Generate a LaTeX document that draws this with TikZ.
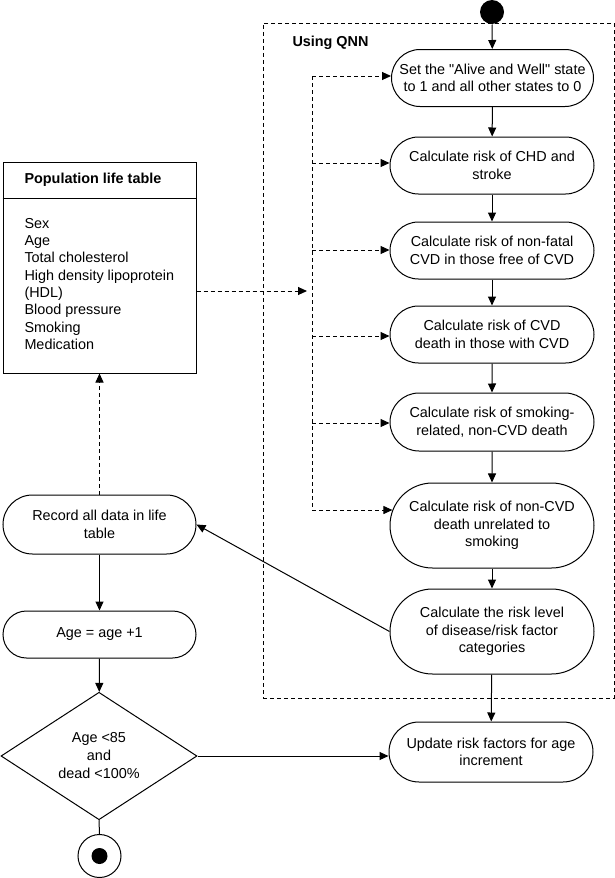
\documentclass[tikz,border=0pt]{standalone}
\usepackage{fontspec}
\setmainfont{Liberation Sans}[Ligatures=TeXOff]
\usetikzlibrary{arrows.meta,shapes.misc,shapes.geometric}

\begin{document}
\begin{tikzpicture}[x=1pt,y=-1pt,
  font=\fontsize{14.4}{17.5}\selectfont,
  line width=1pt,
  tip/.style={-{Triangle[length=9pt,width=8pt]}},
  dsh/.style={dash pattern=on 4pt off 3pt},
  proc/.style={draw, rounded rectangle, fill=white, align=center,
    minimum width=208pt, minimum height=57pt, inner sep=2pt},
  tall/.style={proc, minimum height=85pt},
  dot/.style={circle, fill=black, inner sep=0pt},
]
\useasboundingbox (0,0) rectangle (615,878);

% dashed QNN frame
\node[draw, dsh, minimum width=351pt, minimum height=675pt, inner sep=0pt] (qnn) at (438.5,360.5) {};
\node[anchor=base west, inner sep=0pt, font=\fontsize{14.4}{17.5}\selectfont\bfseries] (qnnlbl) at (292,46) {Using QNN};

% start
\node[dot, minimum size=24pt] (start) at (492,12) {};

% process chain
\node[proc, minimum width=206pt] (b1) at (492.5,78) {Set the "Alive and Well" state\\to 1 and all other states to 0};
\node[proc] (b2) at (492,165.5) {Calculate risk of CHD and\\stroke};
\node[proc] (b3) at (492,250.5) {Calculate risk of non-fatal\\CVD in those free of CVD};
\node[proc] (b4) at (492,334.5) {Calculate risk of CVD\\death in those with CVD};
\node[proc, minimum height=58pt] (b5) at (492,422) {Calculate risk of smoking-\\related, non-CVD death};
\node[tall] (b6) at (492,525.5) {Calculate risk of non-CVD\\death unrelated to\\smoking};
\node[tall] (b7) at (492,631.5) {Calculate the risk level\\of disease/risk factor\\categories};
\node[proc, minimum height=60pt] (upd) at (491,752) {Update risk factors for age\\increment};

% left column
\node[draw, minimum width=193pt, minimum height=211pt, inner sep=0pt] (table) at (99.5,267.5) {};
\draw ([yshift=-37pt]table.north west) -- ([yshift=-37pt]table.north east);
\node[anchor=base west, inner sep=0pt, font=\fontsize{14.4}{17.5}\selectfont\bfseries] (ttl) at (24,183) {Population life table};
\node[anchor=north west, inner sep=0pt, align=left, font=\fontsize{14.4}{17.3}\selectfont] (items) at (24,217.7)
  {Sex\\Age\\Total cholesterol\\High density lipoprotein\\(HDL)\\Blood pressure\\Smoking\\Medication};

\node[proc, minimum width=197pt, minimum height=59pt] (rec) at (99.5,524.5) {Record all data in life\\table};
\node[proc, minimum width=197pt, minimum height=47pt] (age) at (99.5,634.5) {Age = age +1};
\node[draw, diamond, fill=white, minimum width=196pt, minimum height=114pt, inner sep=0pt, align=center,
  font=\fontsize{14.4}{18}\selectfont] (dia) at (99,756) {Age <85\\and\\dead <100\%};
\node[circle, draw, minimum size=43pt, inner sep=0pt] (endc) at (99.5,856) {};
\node[dot, minimum size=16pt] (endd) at (endc.center) {};

% solid connectors
\draw[tip] (start) -- (b1);
\draw[tip] (b1) -- (b2);
\draw[tip] (b2) -- (b3);
\draw[tip] (b3) -- (b4);
\draw[tip] (b4) -- (b5);
\draw[tip] (b5) -- (b6);
\draw[tip] (b6) -- (b7);
\draw[tip] (b7) -- (upd);
\draw[tip] (b7.west) -- (rec.east);
\draw[tip] (rec) -- (age);
\draw[tip] (age) -- (dia);
\draw[tip] (dia.east) -- (dia.east -| upd.west);
\draw (dia.south) -- (endc.north);

% dashed fan
\coordinate (f1) at (312,76);
\coordinate (f2) at (312,163);
\coordinate (f3) at (312,250);
\coordinate (f4) at (312,336);
\coordinate (f5) at (312,423);
\coordinate (f6) at (312,510);
\coordinate (tin) at (307,291);
\draw[dsh] (f1) -- (f6);
\draw[dsh,tip] (f1) -- (f1 -| b1.west);
\draw[dsh,tip] (f2) -- (f2 -| b2.west);
\draw[dsh,tip] (f3) -- (f3 -| b3.west);
\draw[dsh,tip] (f4) -- (f4 -| b4.west);
\draw[dsh,tip] (f5) -- (f5 -| b5.west);
\draw[dsh,tip,shorten >=-2.9pt] (f6) -- (f6 -| b6.west);
\draw[dsh,tip] (table.east |- tin) -- (tin);
\draw[dsh,tip] (rec.north) -- (table.south);
\end{tikzpicture}
\end{document}
